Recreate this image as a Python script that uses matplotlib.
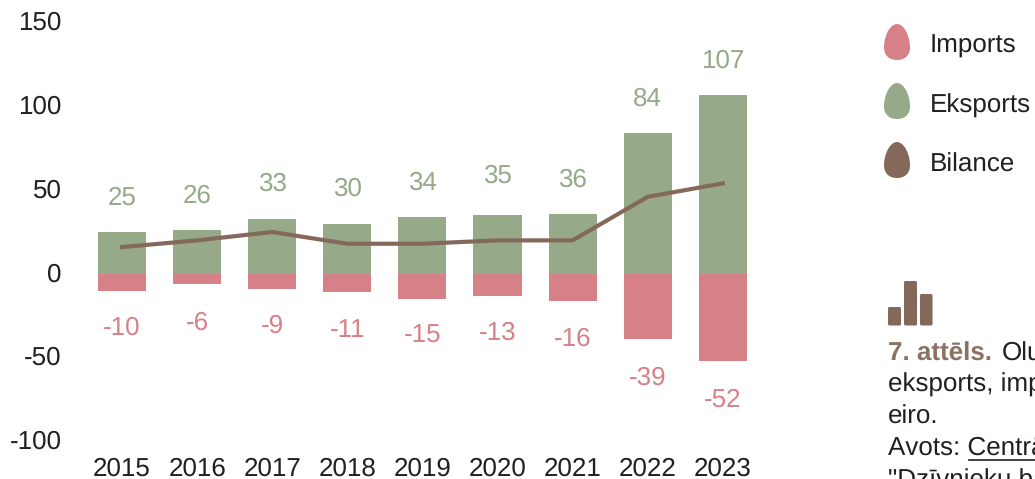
import matplotlib.pyplot as plt
from matplotlib.patches import PathPatch, FancyBboxPatch
from matplotlib.path import Path
from matplotlib.transforms import ScaledTranslation

plt.rcParams['font.family'] = ['Liberation Sans', 'DejaVu Sans']
plt.rcParams['text.hinting'] = 'none'
plt.rcParams['text.hinting_factor'] = 1

# Data
years = ['2015', '2016', '2017', '2018', '2019', '2020', '2021', '2022', '2023']
eksports = [25, 26, 33, 30, 34, 35, 36, 84, 107]
imports = [-10, -6, -9, -11, -15, -13, -16, -39, -52]
bilance = [16, 20, 25, 18, 18, 20, 20, 46, 54]
yticks = [-100, -50, 0, 50, 100, 150]
legend_labels = ['Imports', 'Eksports', 'Bilance']

# label distance from the bar end, in pixels
exp_offset = [34, 34, 35, 35, 34, 39, 34, 34, 34]
imp_offset = [37, 39, 37, 38, 37, 37, 38, 39, 39]

GREEN = '#96a988'
PINK = '#d68187'
BROWN = '#84695a'
DARK = '#231f20'

W, H = 1035, 479
fig = plt.figure(figsize=(W / 100, H / 100), dpi=100)
ax = fig.add_axes([85 / W, 1 - 441.5 / H, 675 / W, 419 / H])

x = list(range(len(years)))
ax.bar(x, eksports, width=0.64, color=GREEN)
ax.bar(x, imports, width=0.64, color=PINK)
ax.plot(x, bilance, color=BROWN, linewidth=3, solid_joinstyle='round')

# px -> pt: dpi 100 so 1px = 0.72pt
for i in x:
    ax.annotate(str(eksports[i]), (i, eksports[i]), xytext=(0, exp_offset[i] * 0.72),
                textcoords='offset points', ha='center', va='center',
                fontsize=19, color=GREEN)
    ax.annotate(str(imports[i]), (i, imports[i]), xytext=(0, -imp_offset[i] * 0.72),
                textcoords='offset points', ha='center', va='center',
                fontsize=19, color=PINK)

ax.set_xlim(-0.493, 8.495)
ax.set_ylim(-100, 150)
ax.set_xticks(x, years)
ax.set_yticks(yticks, [str(v) for v in yticks])
ax.tick_params(axis='both', length=0, labelsize=19, labelcolor=DARK)
ax.tick_params(axis='x', pad=11)
ax.tick_params(axis='y', pad=17)
# y labels sit a little above their gridless positions in the original
shift_up = ScaledTranslation(0, 2 / 100, fig.dpi_scale_trans)
for lab in ax.get_yticklabels():
    lab.set_transform(lab.get_transform() + shift_up)
for s in ax.spines.values():
    s.set_visible(False)

# Overlay in pixel coordinates for the legend and caption
ov = fig.add_axes([0, 0, 1, 1])
ov.set_xlim(0, W)
ov.set_ylim(H, 0)
ov.axis('off')


def egg(cx, top, color):
    w, h = 13, 36
    verts = [(cx, top),
             (cx + 0.55 * w, top), (cx + w, top + 0.34 * h), (cx + w, top + 0.65 * h),
             (cx + w, top + 0.87 * h), (cx + 0.6 * w, top + h), (cx, top + h),
             (cx - 0.6 * w, top + h), (cx - w, top + 0.87 * h), (cx - w, top + 0.65 * h),
             (cx - w, top + 0.34 * h), (cx - 0.55 * w, top), (cx, top)]
    codes = [Path.MOVETO] + [Path.CURVE4] * 12
    ov.add_patch(PathPatch(Path(verts, codes), facecolor=color, edgecolor='none'))


for label, color, top, ty in zip(legend_labels, [PINK, GREEN, BROWN], [24, 83, 142], [46, 106, 165]):
    egg(897, top, color)
    ov.text(930, ty, label, fontsize=19, color=DARK, va='center', ha='left')

# little bar icon
for left, top, right in [(888, 307, 901), (904, 281, 917), (920, 294, 932.5)]:
    ov.add_patch(FancyBboxPatch((left + 1, top + 1), right - left - 2, 325.5 - top - 2,
                                boxstyle='round,pad=1,rounding_size=1.5',
                                facecolor=BROWN, edgecolor='none'))

# caption runs off the right edge of the picture
ov.text(888, 361, '7. attēls.', fontsize=18.7, fontweight='bold', color='#8c7060',
        va='baseline', ha='left')
ov.text(1002, 361, 'Olu', fontsize=18.5, color=DARK, va='baseline', ha='left')
ov.text(888, 392, 'eksports, imports', fontsize=18.5, color=DARK, va='baseline', ha='left')
ov.text(888, 424, 'eiro.', fontsize=18.5, color=DARK, va='baseline', ha='left')
ov.text(888, 456, 'Avots: Centrālā', fontsize=18.5, color=DARK, va='baseline', ha='left')
ov.plot([969, 1035], [459.5, 459.5], color=DARK, linewidth=1.2)
ov.text(888, 488, '"Dzīvnieku bāze"', fontsize=18.5, color=DARK, va='baseline', ha='left')

fig.savefig('out.png', dpi=100)
